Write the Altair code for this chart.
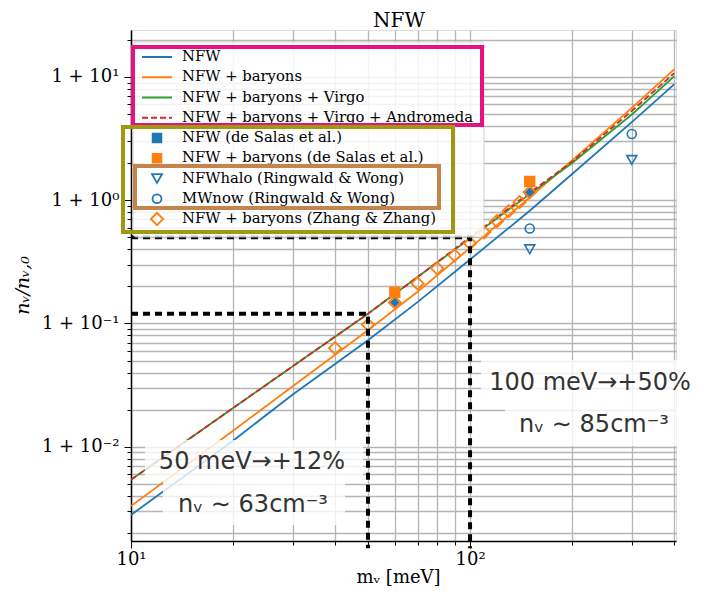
import altair as alt
import pandas as pd

# ---------------- data ----------------
mass_grid = [10, 20, 30, 50, 70, 100, 150, 200, 300, 400]
nfw = [0.0028, 0.0112, 0.0265, 0.073, 0.149, 0.33, 0.82, 1.63, 4.3, 8.7]
nfw_b = [0.0033, 0.0135, 0.031, 0.088, 0.181, 0.41, 1.05, 2.1, 5.6, 11.5]
nfw_bv = [0.0054, 0.0206, 0.045, 0.12, 0.238, 0.49, 1.12, 2.0, 4.95, 10.1]
nfw_bva = [0.0054, 0.0206, 0.045, 0.12, 0.238, 0.50, 1.15, 2.05, 5.3, 10.7]

series_names = ["NFW", "NFW + baryons", "NFW + baryons + Virgo",
                "NFW + baryons + Virgo + Andromeda"]
series_colors = ["#1f77b4", "#ff7f0e", "#2ca02c", "#d62728"]

desalas_mass = [60, 150]
desalas_nfw = [0.148, 1.16]
desalas_nfwb = [0.179, 1.42]

rw_mass = [150, 300]
rw_nfwhalo = [0.40, 2.12]
rw_mwnow = [0.59, 3.44]

zz_mass = [40, 50, 60, 70, 80, 90, 100, 110, 120, 130, 140, 150]
zz_nfwb = [0.063, 0.098, 0.148, 0.211, 0.280, 0.357, 0.447, 0.549, 0.675,
           0.814, 0.963, 1.16]

guide_mass = [50, 100]
guide_excess = [0.12, 0.5]

legend_labels = ["NFW", "NFW + baryons", "NFW + baryons + Virgo",
                 "NFW + baryons + Virgo + Andromeda",
                 "NFW (de Salas et al.)", "NFW + baryons (de Salas et al.)",
                 "NFWhalo (Ringwald & Wong)", "MWnow (Ringwald & Wong)",
                 "NFW + baryons (Zhang & Zhang)"]

ann_texts = ["100 meV\u2192+50%", "n\u1d65 \u223c 85cm\u207b\u00b3",
             "50 meV\u2192+12%", "n\u1d65 \u223c 63cm\u207b\u00b3"]

chart_title = "NFW"

# ---------------- tables ----------------
XMIN, XMAX = 10, 405
YMIN, YMAX = 0.00172, 24

lines_df = pd.DataFrame(
    [{"m": m, "v": v, "s": series_names[i]}
     for i, vals in enumerate([nfw, nfw_b, nfw_bv, nfw_bva])
     for m, v in zip(mass_grid, vals)])

def pts(ms, vs):
    return pd.DataFrame({"m": ms, "v": vs})

guide_rows = []
for g, (gm, gv) in enumerate(zip(guide_mass, guide_excess)):
    guide_rows += [{"g": g, "o": 0, "m": XMIN, "v": gv},
                   {"g": g, "o": 1, "m": gm, "v": gv},
                   {"g": g, "o": 2, "m": gm, "v": 0.0015}]
guide_df = pd.DataFrame(guide_rows)

x_ticks = [10, 20, 30, 40, 50, 60, 70, 80, 90, 100, 200, 300, 400]
y_ticks = [round(k * 10.0 ** e, 6) for e in range(-3, 2) for k in range(1, 10)
           if YMIN <= k * 10.0 ** e <= YMAX]

SERIF = "DejaVu Serif"
x_axis = alt.Axis(
    values=x_ticks,
    labelExpr="datum.value == 10 ? '10\u00b9' : datum.value == 100 ? '10\u00b2' : ''",
    grid=True, gridColor="#b5b5b5", gridWidth=1.3,
    tickColor="black", tickWidth=1,
    tickSize={"condition": {"test": "datum.value == 10 || datum.value == 100", "value": 7}, "value": 4},
    domainColor="black", domainWidth=1.5,
    labelFont=SERIF, labelFontSize=18, labelColor="black", labelPadding=2,
    labelOverlap=False, labelFlush=False, labelBound=False,
    title="m\u1d65 [meV]", titleFont=SERIF, titleFontSize=18, titleFontWeight="normal",
    titleColor="black", titleX=267, titleY=36, titleBaseline="middle")

y_axis = alt.Axis(
    values=y_ticks,
    labelExpr=("datum.value == 10 ? '1 + 10\u00b9' : datum.value == 1 ? '1 + 10\u2070' : "
               "datum.value == 0.1 ? '1 + 10\u207b\u00b9' : datum.value == 0.01 ? '1 + 10\u207b\u00b2' : ''"),
    grid=True, gridColor="#b5b5b5", gridWidth=1.3,
    tickColor="black", tickWidth=1,
    tickSize={"condition": {"test": "datum.value == 10 || datum.value == 1 || datum.value == 0.1 || datum.value == 0.01", "value": 7}, "value": 4},
    domainColor="black", domainWidth=1.5,
    labelFont=SERIF, labelFontSize=18, labelColor="black", labelPadding=5,
    labelOverlap=False, labelFlush=False, labelBound=False,
    title="n\u1d65/n\u1d65,\u2080", titleFont=SERIF, titleFontSize=19, titleFontStyle="italic",
    titleFontWeight="normal", titleColor="black",
    titleX=-109, titleY=255, titleAngle=-90, titleBaseline="middle", titleAlign="center")

X = alt.X("m:Q", scale=alt.Scale(type="log", domain=[XMIN, XMAX]), axis=x_axis)
Y = alt.Y("v:Q", scale=alt.Scale(type="log", domain=[YMIN, YMAX]), axis=y_axis)

solid = alt.Chart(lines_df[lines_df.s != series_names[3]]).mark_line(
    clip=True, strokeWidth=1.8).encode(
    x=X, y=Y, detail="s:N",
    color=alt.Color("s:N", scale=alt.Scale(domain=series_names[:3], range=series_colors[:3]),
                    legend=None))
dashed = alt.Chart(lines_df[lines_df.s == series_names[3]]).mark_line(
    clip=True, strokeWidth=1.8, color=series_colors[3], strokeDash=[6, 3]).encode(x=X, y=Y)

p_dsb = alt.Chart(pts(desalas_mass, desalas_nfwb)).mark_point(
    shape="square", filled=True, size=130, color="#ff7f0e", opacity=1).encode(x=X, y=Y)
p_dsn = alt.Chart(pts(desalas_mass, desalas_nfw)).mark_point(
    shape="diamond", filled=True, size=95, color="#1f77b4", opacity=1).encode(x=X, y=Y)
p_halo = alt.Chart(pts(rw_mass, rw_nfwhalo)).mark_point(
    shape="triangle-down", filled=False, size=100, strokeWidth=1.6, color="#1f77b4",
    opacity=1).encode(x=X, y=Y)
p_mw = alt.Chart(pts(rw_mass, rw_mwnow)).mark_point(
    shape="circle", filled=False, size=80, strokeWidth=1.6, color="#1f77b4",
    opacity=1).encode(x=X, y=Y)
p_zz = alt.Chart(pts(zz_mass, zz_nfwb)).mark_point(
    shape="diamond", filled=False, size=150, strokeWidth=1.8, color="#ff7f0e",
    opacity=1).encode(x=X, y=Y)

guides = alt.Chart(guide_df).mark_line(
    color="black", strokeWidth=4, strokeDash=[7, 5], clip=False, strokeCap="butt").encode(
    x=X, y=Y, detail="g:N", order="o:Q")

# ---------------- annotations (pixel positions in the plot frame) ----------------
ann_box_df = pd.DataFrame({
    "x": [350, 374, 14, 32], "x2": [590, 551, 232, 214],
    "y": [330, 373, 410, 452], "y2": [373, 416, 452, 495]})
ann_boxes = alt.Chart(ann_box_df).mark_rect(fill="white", opacity=0.8).encode(
    x=alt.X("x:Q", scale=None, axis=None), x2="x2:Q",
    y=alt.Y("y:Q", scale=None, axis=None), y2="y2:Q")
ann_df = pd.DataFrame({"t": ann_texts, "x": [459, 463, 121, 122], "y": [353, 395, 432, 475]})
ann_text = alt.Chart(ann_df).mark_text(
    font="DejaVu Sans", fontSize=24, color="#333333", align="center", baseline="middle").encode(
    x=alt.X("x:Q", scale=None, axis=None), y=alt.Y("y:Q", scale=None, axis=None), text="t:N")

title_mark = alt.Chart(pd.DataFrame({"t": [chart_title], "x": [268], "y": [-3]})).mark_text(
    font=SERIF, fontSize=20, color="black", align="center", baseline="alphabetic").encode(
    x=alt.X("x:Q", scale=None, axis=None), y=alt.Y("y:Q", scale=None, axis=None), text="t:N")

# ---------------- legend (pixel positions in the plot frame) ----------------
ROW0, STEP = 27, 20.25
leg_rows = pd.DataFrame({"label": legend_labels,
                         "y": [ROW0 + i * STEP for i in range(len(legend_labels))]})
leg_rows["tx"] = 51

leg_bg = alt.Chart(pd.DataFrame({"x": [2], "x2": [353], "y": [12], "y2": [207]})).mark_rect(
    fill="white", opacity=0.85, stroke="#cccccc", strokeWidth=1, cornerRadius=3).encode(
    x=alt.X("x:Q", scale=None, axis=None), x2="x2:Q",
    y=alt.Y("y:Q", scale=None, axis=None), y2="y2:Q")

leg_line_df = leg_rows.iloc[:4].copy()
leg_line_df["x"] = 11
leg_line_df["x2"] = 41
leg_line_df["c"] = series_colors
leg_lines = alt.Chart(leg_line_df.iloc[:3]).mark_rule(strokeWidth=2).encode(
    x=alt.X("x:Q", scale=None, axis=None), x2="x2:Q",
    y=alt.Y("y:Q", scale=None, axis=None), color=alt.Color("c:N", scale=None))
leg_dash = alt.Chart(leg_line_df.iloc[3:]).mark_rule(strokeWidth=2, strokeDash=[6, 3]).encode(
    x=alt.X("x:Q", scale=None, axis=None), x2="x2:Q",
    y=alt.Y("y:Q", scale=None, axis=None), color=alt.Color("c:N", scale=None))

leg_filled_df = leg_rows.iloc[4:6].copy()
leg_filled_df["x"] = 26
leg_filled_df["c"] = ["#1f77b4", "#ff7f0e"]
leg_filled = alt.Chart(leg_filled_df).mark_point(
    shape="square", filled=True, size=110, opacity=1).encode(
    x=alt.X("x:Q", scale=None, axis=None), y=alt.Y("y:Q", scale=None, axis=None),
    color=alt.Color("c:N", scale=None))

leg_open_df = leg_rows.iloc[6:9].copy()
leg_open_df["x"] = 26
leg_open_df["c"] = ["#1f77b4", "#1f77b4", "#ff7f0e"]
leg_open_df["sh"] = ["triangle-down", "circle", "diamond"]
leg_open_df["sz"] = [100, 80, 150]
leg_open = alt.Chart(leg_open_df).mark_point(filled=False, strokeWidth=1.8, opacity=1).encode(
    x=alt.X("x:Q", scale=None, axis=None), y=alt.Y("y:Q", scale=None, axis=None),
    color=alt.Color("c:N", scale=None), shape=alt.Shape("sh:N", scale=None),
    size=alt.Size("sz:Q", scale=None))

leg_text = alt.Chart(leg_rows).mark_text(
    font=SERIF, fontSize=14.8, color="black", align="left", baseline="middle").encode(
    x=alt.X("tx:Q", scale=None, axis=None), y=alt.Y("y:Q", scale=None, axis=None), text="label:N")

frame_df = pd.DataFrame({
    "x": [2, -8, 4], "x2": [351, 322, 308],
    "y": [17, 97, 136], "y2": [95, 202, 178],
    "c": ["#e6127f", "#9c9a10", "#c4844a"]})
leg_frames = alt.Chart(frame_df).mark_rect(fillOpacity=0, strokeWidth=4).encode(
    x=alt.X("x:Q", scale=None, axis=None), x2="x2:Q",
    y=alt.Y("y:Q", scale=None, axis=None), y2="y2:Q",
    stroke=alt.Stroke("c:N", scale=None))

chart = alt.layer(
    solid, dashed, p_dsb, p_dsn, p_halo, p_mw, p_zz, guides,
    ann_boxes, ann_text, title_mark,
    leg_bg, leg_lines, leg_dash, leg_filled, leg_open, leg_text, leg_frames
).properties(
    width=545, height=511,
    autosize=alt.AutoSizeParams(type="none"),
    padding={"left": 123, "top": 22, "right": 19, "bottom": 45},
).configure_view(stroke="black", strokeWidth=1.5).configure(background="white")

chart.save("out.html", embed_options={"renderer": "svg", "actions": False})
